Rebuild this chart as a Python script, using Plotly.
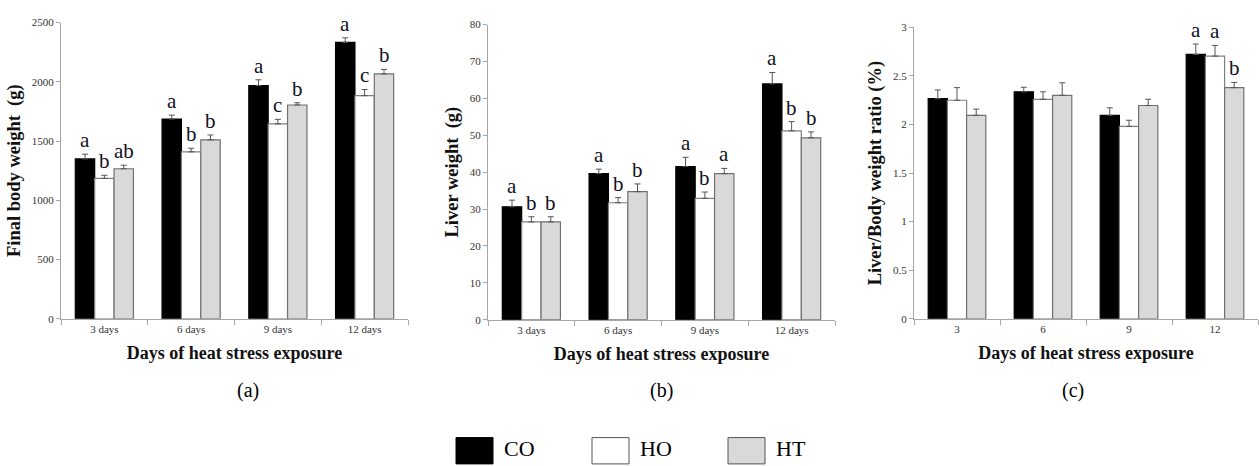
import plotly.graph_objects as go

days_a = ["3 days", "6 days", "9 days", "12 days"]
days_c = ["3", "6", "9", "12"]
groups = ["CO", "HO", "HT"]

# (a) Final body weight (g)
bw_mean = {"CO": [1349, 1686, 1968, 2333], "HO": [1184, 1409, 1645, 1883], "HT": [1266, 1510, 1804, 2067]}
bw_err = {"CO": [40, 33, 49, 38], "HO": [27, 30, 38, 52], "HT": [30, 41, 19, 38]}
bw_let = {"CO": ["a", "a", "a", "a"], "HO": ["b", "b", "c", "c"], "HT": ["ab", "b", "b", "b"]}

# (b) Liver weight (g)
lw_mean = {"CO": [30.6, 39.6, 41.5, 63.9], "HO": [26.5, 31.7, 32.9, 51.2], "HT": [26.5, 34.7, 39.6, 49.3]}
lw_err = {"CO": [1.8, 1.2, 2.5, 3.1], "HO": [1.4, 1.4, 1.7, 2.5], "HT": [1.4, 2.1, 1.4, 1.6]}
lw_let = {"CO": ["a", "a", "a", "a"], "HO": ["b", "b", "b", "b"], "HT": ["b", "b", "a", "b"]}

# (c) Liver/Body weight ratio (%)
lr_mean = {"CO": [2.266, 2.337, 2.095, 2.722], "HO": [2.25, 2.26, 1.98, 2.705], "HT": [2.095, 2.30, 2.196, 2.38]}
lr_err = {"CO": [0.09, 0.047, 0.077, 0.107], "HO": [0.13, 0.077, 0.064, 0.11], "HT": [0.064, 0.13, 0.064, 0.054]}
lr_let = {"CO": ["", "", "", "a"], "HO": ["", "", "", "a"], "HT": ["", "", "", "b"]}

fills = {"CO": "#000000", "HO": "#ffffff", "HT": "#d9d9d9"}
lines = {"CO": "#000000", "HO": "#808080", "HT": "#707070"}

SERIF = "Liberation Serif"
BARGAP = 0.33
W, H = 1259, 466

panels = [
    dict(cats=days_a, mean=bw_mean, err=bw_err, let=bw_let, yr=[0, 2500], dt=500, title="Final body weight  (g)",
         xd=[61 / W, 408 / W], yd=[(H - 321) / H, (H - 17) / H], lab="(a)"),
    dict(cats=days_a, mean=lw_mean, err=lw_err, let=lw_let, yr=[0, 80], dt=10, title="Liver weight  (g)",
         xd=[488 / W, 835 / W], yd=[(H - 322) / H, (H - 19) / H], lab="(b)"),
    dict(cats=days_c, mean=lr_mean, err=lr_err, let=lr_let, yr=[0, 3], dt=0.5, title="Liver/Body weight ratio (%)",
         xd=[914 / W, 1258 / W], yd=[(H - 321) / H, (H - 22) / H], lab="(c)"),
]

fig = go.Figure()
annotations = []
shapes = []
bw_units = (1 - BARGAP) / 3

for p_i, p in enumerate(panels):
    sfx = "" if p_i == 0 else str(p_i + 1)
    for k, g in enumerate(groups):
        fig.add_trace(go.Bar(
            x=p["cats"], y=p["mean"][g], name=g, showlegend=False,
            marker=dict(color=fills[g], line=dict(color=lines[g], width=1.2)),
            error_y=dict(type="data", symmetric=False, array=p["err"][g],
                         arrayminus=[0] * 4, color="#555555", thickness=1, width=3),
            xaxis="x" + sfx, yaxis="y" + sfx, offsetgroup=g,
        ))
        for i in range(4):
            t = p["let"][g][i]
            if t:
                annotations.append(dict(
                    x=i + (k - 1) * bw_units, y=p["mean"][g][i] + p["err"][g][i],
                    xref="x" + sfx, yref="y" + sfx, text=t, showarrow=False,
                    yanchor="bottom", yshift=0,
                    font=dict(family=SERIF, size=21, color="#111122")))
    axis_common = dict(showline=True, linecolor="#a6a6a6", linewidth=1, showgrid=False, zeroline=False,
                       ticks="outside", tickcolor="#a6a6a6", ticklen=4,
                       tickfont=dict(family=SERIF, size=11, color="#333333"))
    fig.layout["xaxis" + sfx] = dict(axis_common, domain=p["xd"], anchor="y" + sfx, type="category",
                                     tickson="boundaries", ticklen=5,
                                     title=dict(text="<b>Days of heat stress exposure</b>", standoff=12,
                                                font=dict(family=SERIF, size=18, color="#111111")))
    fig.layout["yaxis" + sfx] = dict(axis_common, domain=p["yd"], anchor="x" + sfx, range=p["yr"], dtick=p["dt"],
                                     title=dict(text="<b>" + p["title"] + "</b>", standoff=6,
                                                font=dict(family=SERIF, size=18.5, color="#111111")))
    annotations.append(dict(x=(p["xd"][0] + p["xd"][1]) / 2, y=(H - 395) / H, xref="paper", yref="paper",
                            yanchor="middle", text=p["lab"], showarrow=False,
                            font=dict(family=SERIF, size=20, color="#000000")))

# legend drawn as boxes + labels
leg_x = [456, 592, 728]
for k, g in enumerate(groups):
    x0 = leg_x[k] / W
    shapes.append(dict(type="rect", xref="paper", yref="paper", x0=x0, x1=(leg_x[k] + 37) / W,
                       y0=(H - 470) / H, y1=(H - 443) / H,
                       fillcolor=fills[g], line=dict(color="#000000" if g == "CO" else "#555555", width=1)))
    annotations.append(dict(x=(leg_x[k] + 46) / W, y=(H - 454) / H, xref="paper", yref="paper",
                            xanchor="left", yanchor="middle", text=g, showarrow=False,
                            font=dict(family=SERIF, size=22, color="#000000")))

fig.update_layout(width=W, height=H, margin=dict(l=0, r=0, t=0, b=0), barmode="group", bargap=BARGAP,
                  bargroupgap=0, plot_bgcolor="white", paper_bgcolor="white",
                  annotations=annotations, shapes=shapes)
fig.write_html("out.html")
